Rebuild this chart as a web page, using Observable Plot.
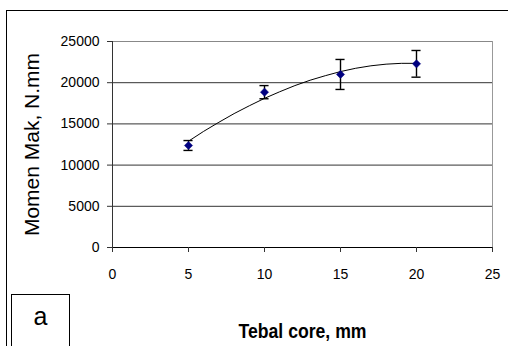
<!DOCTYPE html>
<html>
<head>
<meta charset="utf-8">
<script src="https://cdn.jsdelivr.net/npm/d3@7"></script>
<script src="https://cdn.jsdelivr.net/npm/@observablehq/plot@0.6"></script>
<style>
  html, body { margin: 0; padding: 0; background: #fff; }
  #wrap { position: relative; width: 508px; height: 346px; overflow: hidden; font-family: "Liberation Sans", Arial, sans-serif; }
  #wrap svg { position: absolute; left: 0; top: 0; }
  #frame { position: absolute; left: 6px; top: 10px; width: 520px; height: 360px; border-left: 1px solid #000; border-top: 1px solid #000; box-sizing: border-box; }
  #panel { position: absolute; left: 11px; top: 294px; width: 59px; height: 80px; border: 1px solid #000; box-sizing: border-box; }
  #panel span { position: absolute; left: 0; width: 57px; top: 9px; text-align: center; font-size: 25px; line-height: 25px; }
</style>
</head>
<body>
<div id="wrap">
  <div id="frame"></div>
  <div id="panel"><span>a</span></div>
</div>
<script>
// Data
const tebal = [5, 10, 15, 20];
const momen = [12380, 18850, 21000, 22290];
const galat = [600, 800, 1820, 1620];

// polynomial trendline
const trendX = [5, 6, 7, 8, 9, 10, 11, 12, 13, 14, 15, 16, 17, 18, 19, 20];
const trendY = [12900, 14100, 15200, 16250, 17200, 18100, 18900, 19650, 20300, 20850, 21350, 21750, 22050, 22250, 22350, 22350];

const xTicks = [0, 5, 10, 15, 20, 25];
const yTicks = [0, 5000, 10000, 15000, 20000, 25000];

const yLabel = "Momen Mak, N.mm";
const xLabel = "Tebal core, mm";

const points = tebal.map((x, i) => ({x, y: momen[i], lo: momen[i] - galat[i], hi: momen[i] + galat[i]}));
const trend = trendX.map((x, i) => ({x, y: trendY[i]}));

const capHalf = 0.3;

const chart = Plot.plot({
  width: 508,
  height: 346,
  marginLeft: 112,
  marginRight: 16,
  marginTop: 41,
  marginBottom: 99,
  style: {fontFamily: "'Liberation Sans', Arial, sans-serif", background: "transparent", overflow: "visible"},
  x: {domain: [0, 25], ticks: xTicks},
  y: {domain: [0, 25000], ticks: yTicks},
  marks: [
    Plot.ruleY(yTicks.filter(d => d > 0 && d < 25000), {stroke: "#333", strokeWidth: 1}),
    Plot.ruleY([25000], {stroke: "#888", strokeWidth: 1}),
    Plot.ruleX([25], {stroke: "#999", strokeWidth: 1}),
    Plot.ruleX([0], {stroke: "#333", strokeWidth: 1}),
    Plot.ruleY([0], {stroke: "#000", strokeWidth: 1}),
    Plot.axisY({ticks: yTicks, tickSize: 5, tickPadding: 8, fontSize: 14, label: null, tickFormat: d => String(d), stroke: "#333", color: "#000"}),
    Plot.axisX({ticks: xTicks, tickSize: 5, tickPadding: 17, fontSize: 14, label: null, tickFormat: d => String(d), stroke: "#333", color: "#000"}),
    Plot.line(trend, {x: "x", y: "y", stroke: "#000", strokeWidth: 1}),
    Plot.ruleX(points, {x: "x", y1: "lo", y2: "hi", stroke: "#000", strokeWidth: 1.4}),
    Plot.ruleY(points, {y: "lo", x1: d => d.x - capHalf, x2: d => d.x + capHalf, stroke: "#000", strokeWidth: 1.4}),
    Plot.ruleY(points, {y: "hi", x1: d => d.x - capHalf, x2: d => d.x + capHalf, stroke: "#000", strokeWidth: 1.4}),
    Plot.dot(points, {x: "x", y: "y", symbol: "diamond2", r: 3.7, fill: "#000080", stroke: "#000080", strokeWidth: 0.5}),
    Plot.text([yLabel], {frameAnchor: "left", dx: -80, rotate: -90, textAnchor: "middle", lineAnchor: "middle", fontSize: 21, fill: "#000", text: d => d}),
    Plot.text([xLabel], {frameAnchor: "bottom", dy: 84, textAnchor: "middle", lineAnchor: "middle", fontSize: 20, fontWeight: "bold", fill: "#000", text: d => d})
  ]
});

d3.select(chart).selectAll("text").filter(function() { return this.textContent === xLabel; })
  .attr("textLength", 128).attr("lengthAdjust", "spacingAndGlyphs");

document.getElementById("wrap").appendChild(chart);
</script>
</body>
</html>
